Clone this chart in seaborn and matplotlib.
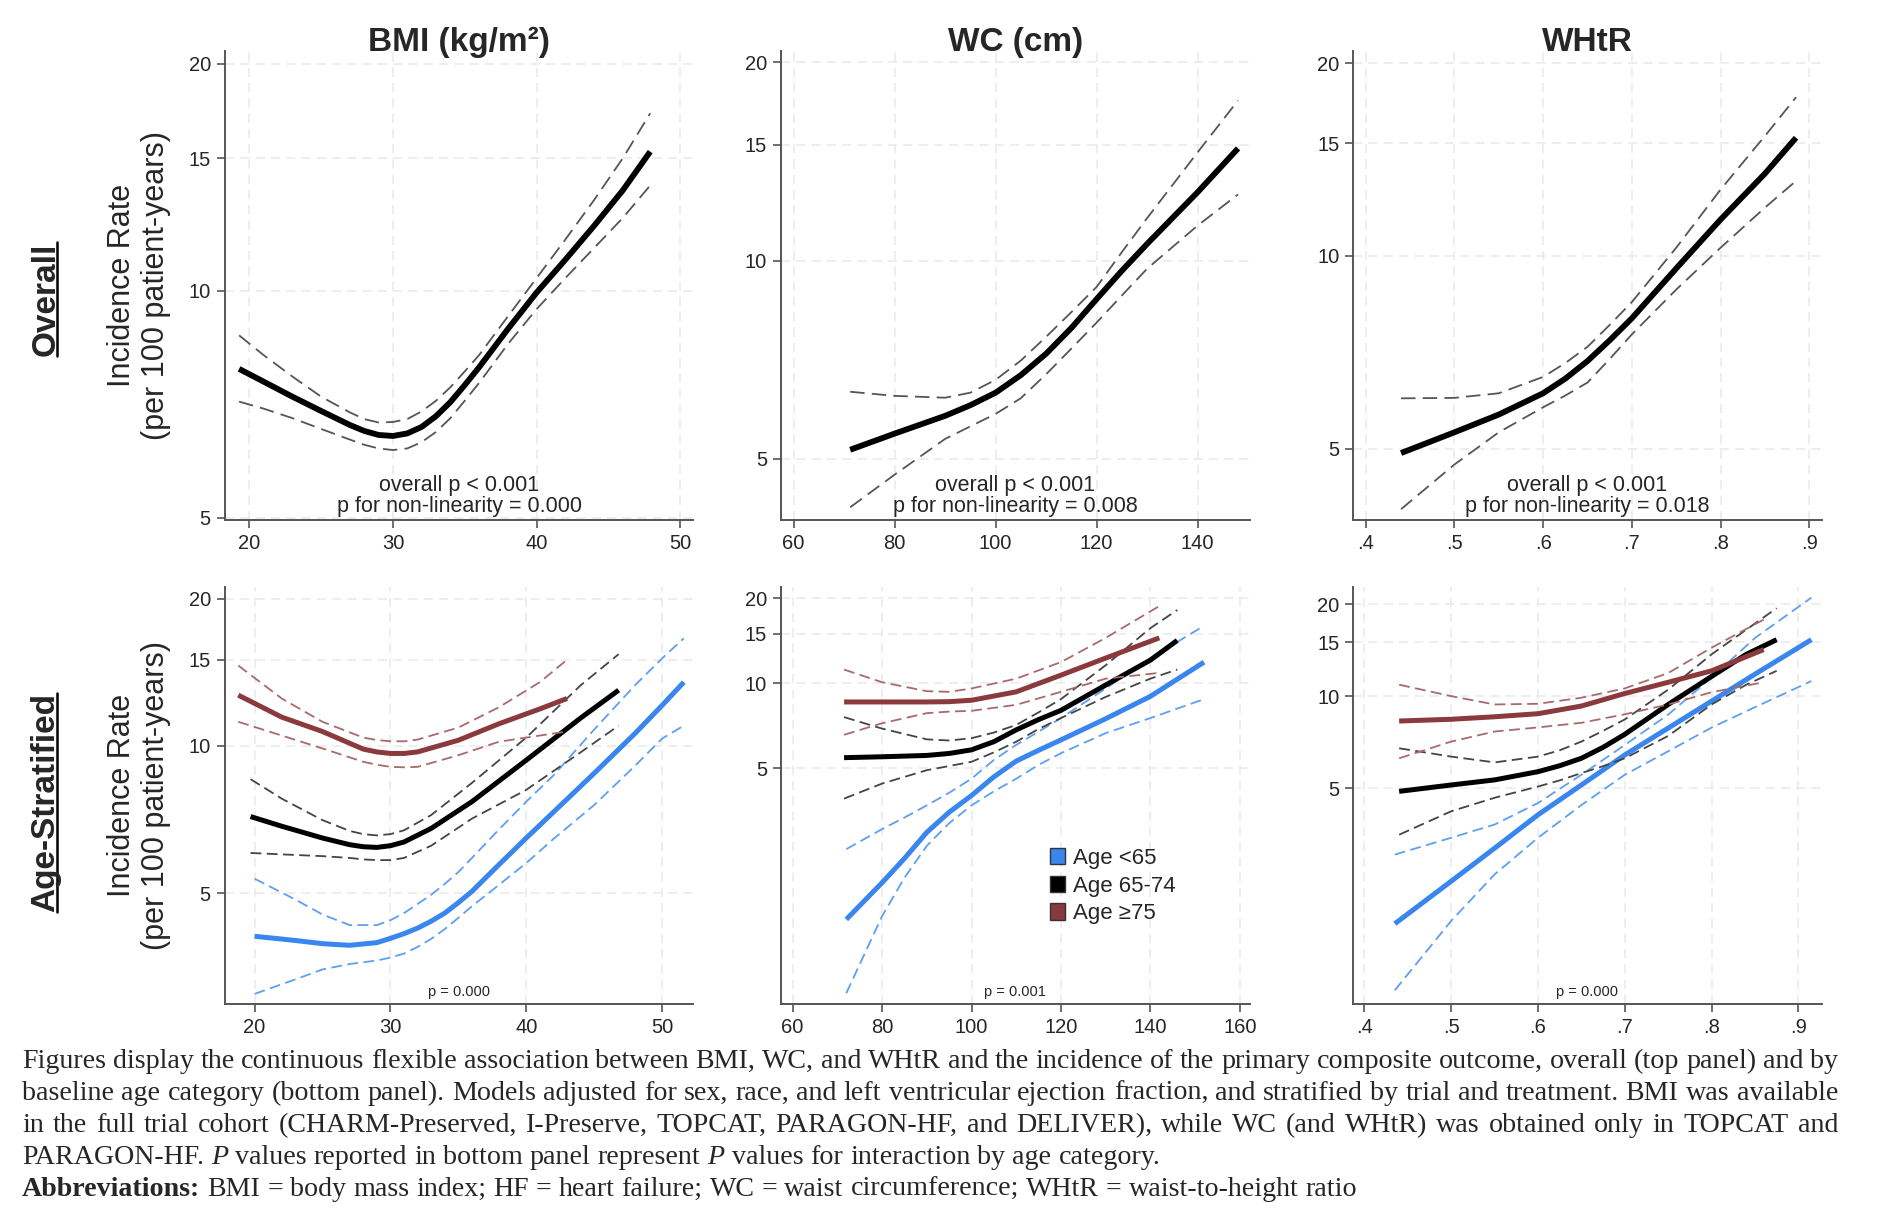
import numpy as np
import pandas as pd
import matplotlib
matplotlib.use("Agg")
import matplotlib.pyplot as plt
import seaborn as sns
from matplotlib.patches import Patch
from matplotlib.lines import Line2D
from matplotlib.ticker import FixedLocator, NullLocator

# ---------------- values ----------------
# top row: overall curves (estimate, lower CI, upper CI)
bmi_o_x = [19.3, 21, 23, 25, 27, 28, 29, 30, 31, 32, 33, 34, 35, 36, 38, 40, 42, 44, 46, 47.9]
bmi_o_est = [7.88, 7.58, 7.24, 6.93, 6.64, 6.52, 6.44, 6.42, 6.47, 6.6, 6.82, 7.12, 7.5, 7.92, 8.9, 9.95, 11.0, 12.2, 13.6, 15.3]
bmi_o_hi = [8.73, 8.22, 7.7, 7.24, 6.9, 6.76, 6.69, 6.7, 6.76, 6.92, 7.15, 7.45, 7.82, 8.22, 9.25, 10.4, 11.7, 13.2, 15.0, 17.2]
bmi_o_lo = [7.13, 6.98, 6.78, 6.56, 6.35, 6.25, 6.18, 6.15, 6.18, 6.3, 6.5, 6.78, 7.15, 7.55, 8.5, 9.46, 10.4, 11.4, 12.5, 13.8]

wc_o_x = [71.2, 80, 90, 95, 100, 105, 110, 115, 120, 125, 130, 140, 148]
wc_o_est = [5.16, 5.46, 5.81, 6.03, 6.3, 6.7, 7.22, 7.9, 8.74, 9.65, 10.6, 12.7, 14.8]
wc_o_hi = [6.32, 6.23, 6.19, 6.3, 6.59, 7.05, 7.66, 8.35, 9.12, 10.3, 11.6, 14.6, 17.5]
wc_o_lo = [4.22, 4.73, 5.36, 5.6, 5.85, 6.18, 6.72, 7.35, 8.05, 8.85, 9.72, 11.3, 12.6]

whtr_o_x = [0.44, 0.5, 0.55, 0.6, 0.625, 0.65, 0.675, 0.7, 0.75, 0.8, 0.85, 0.885]
whtr_o_est = [4.92, 5.30, 5.65, 6.1, 6.43, 6.85, 7.38, 7.99, 9.56, 11.4, 13.45, 15.3]
whtr_o_hi = [5.99, 6.0, 6.1, 6.47, 6.8, 7.21, 7.8, 8.47, 10.3, 12.7, 15.4, 17.7]
whtr_o_lo = [4.02, 4.72, 5.3, 5.8, 6.05, 6.34, 6.9, 7.54, 8.86, 10.3, 11.9, 13.1]

# bottom row: age-stratified curves (y = <65, m = 65-74, e = >=75)
bmi_y_x = [20, 23, 25, 27, 29, 30, 31, 32, 33, 34, 35, 36, 38, 40, 42, 45, 48, 50, 51.6]
bmi_y_est = [4.08, 4.0, 3.94, 3.91, 3.96, 4.04, 4.13, 4.24, 4.38, 4.55, 4.78, 5.04, 5.72, 6.48, 7.32, 8.79, 10.6, 12.1, 13.5]
bmi_y_hi = [5.35, 4.85, 4.52, 4.3, 4.3, 4.4, 4.55, 4.75, 4.96, 5.22, 5.52, 5.9, 6.75, 7.69, 8.7, 10.8, 13.3, 15.1, 16.6]
bmi_y_lo = [3.11, 3.33, 3.49, 3.58, 3.64, 3.69, 3.76, 3.88, 4.03, 4.22, 4.45, 4.7, 5.2, 5.76, 6.45, 7.57, 9.1, 10.35, 11.0]
bmi_m_x = [19.7, 22, 25, 27, 28, 29, 30, 31, 33, 36, 40, 44, 46.8]
bmi_m_est = [7.17, 6.85, 6.48, 6.28, 6.22, 6.2, 6.25, 6.36, 6.78, 7.69, 9.35, 11.4, 13.0]
bmi_m_hi = [8.55, 7.8, 7.05, 6.7, 6.6, 6.56, 6.6, 6.72, 7.22, 8.4, 10.4, 13.3, 15.4]
bmi_m_lo = [6.04, 6.0, 5.95, 5.9, 5.86, 5.84, 5.84, 5.9, 6.25, 7.1, 8.13, 9.7, 11.0]
bmi_e_x = [18.8, 22, 25, 28, 29, 30, 31, 32, 35, 38, 41, 43]
bmi_e_est = [12.7, 11.45, 10.7, 9.85, 9.72, 9.65, 9.65, 9.72, 10.27, 11.1, 11.9, 12.5]
bmi_e_hi = [14.6, 12.5, 11.2, 10.4, 10.28, 10.22, 10.22, 10.3, 10.9, 12.0, 13.5, 15.0]
bmi_e_lo = [11.2, 10.5, 9.88, 9.28, 9.15, 9.06, 9.04, 9.06, 9.57, 10.2, 10.5, 10.7]

wc_y_x = [72, 80, 85, 90, 95, 100, 105, 110, 115, 120, 130, 140, 152]
wc_y_est = [1.46, 1.97, 2.4, 2.97, 3.5, 4.01, 4.67, 5.31, 5.8, 6.31, 7.5, 9.0, 11.9]
wc_y_hi = [2.59, 3.05, 3.35, 3.70, 4.1, 4.6, 5.36, 6.06, 6.75, 7.54, 9.6, 12.3, 16.0]
wc_y_lo = [0.80, 1.50, 2.05, 2.66, 3.2, 3.7, 4.15, 4.6, 5.15, 5.66, 6.67, 7.54, 8.8]
wc_m_x = [71.5, 80, 90, 95, 100, 105, 110, 115, 120, 130, 140, 146]
wc_m_est = [5.46, 5.5, 5.56, 5.65, 5.82, 6.22, 6.85, 7.45, 8.03, 9.87, 12.1, 14.2]
wc_m_hi = [7.6, 6.92, 6.34, 6.28, 6.4, 6.7, 7.13, 7.9, 8.8, 11.6, 15.7, 18.2]
wc_m_lo = [3.91, 4.42, 4.93, 5.1, 5.28, 5.7, 6.22, 6.9, 7.54, 8.96, 10.4, 11.2]
wc_e_x = [71.5, 80, 90, 95, 100, 110, 120, 130, 142]
wc_e_est = [8.6, 8.6, 8.6, 8.62, 8.72, 9.34, 10.7, 12.3, 14.5]
wc_e_hi = [11.2, 10.1, 9.39, 9.34, 9.6, 10.4, 11.9, 14.5, 18.8]
wc_e_lo = [6.58, 7.23, 7.85, 7.95, 8.0, 8.4, 9.34, 10.4, 10.9]

whtr_y_x = [0.435, 0.5, 0.55, 0.6, 0.65, 0.7, 0.75, 0.8, 0.85, 0.915]
whtr_y_est = [1.80, 2.48, 3.18, 4.09, 5.12, 6.42, 7.86, 9.63, 11.8, 15.3]
whtr_y_hi = [3.03, 3.44, 3.80, 4.47, 5.53, 6.92, 8.7, 11.5, 15.5, 21.0]
whtr_y_lo = [1.09, 1.84, 2.61, 3.44, 4.4, 5.53, 6.6, 7.89, 9.2, 11.2]
whtr_m_x = [0.44, 0.5, 0.55, 0.6, 0.625, 0.65, 0.675, 0.7, 0.75, 0.8, 0.84, 0.875]
whtr_m_est = [4.88, 5.12, 5.32, 5.66, 5.92, 6.26, 6.8, 7.5, 9.39, 11.6, 13.7, 15.3]
whtr_m_hi = [6.75, 6.34, 6.07, 6.34, 6.65, 7.1, 7.7, 8.39, 10.5, 13.7, 16.5, 19.4]
whtr_m_lo = [3.52, 4.2, 4.65, 5.06, 5.3, 5.6, 5.9, 6.26, 7.41, 9.39, 10.9, 12.1]
whtr_e_x = [0.44, 0.5, 0.55, 0.6, 0.65, 0.7, 0.75, 0.8, 0.86]
whtr_e_est = [8.29, 8.4, 8.56, 8.76, 9.28, 10.2, 11.1, 12.1, 14.2]
whtr_e_hi = [10.9, 10.0, 9.39, 9.44, 9.88, 10.6, 11.9, 14.4, 17.8]
whtr_e_lo = [6.26, 7.1, 7.66, 7.9, 8.18, 8.72, 9.39, 10.3, 11.1]

titles = ["BMI (kg/m²)", "WC (cm)", "WHtR"]
age_labels = ["Age <65", "Age 65-74", "Age ≥75"]
top_notes = ["overall p < 0.001\np for non-linearity = 0.000",
             "overall p < 0.001\np for non-linearity = 0.008",
             "overall p < 0.001\np for non-linearity = 0.018"]
bottom_notes = ["p = 0.000", "p = 0.001", "p = 0.000"]
y_ticks = [5, 10, 15, 20]
x_ticks_top = [[20, 30, 40, 50], [60, 80, 100, 120, 140], [.4, .5, .6, .7, .8, .9]]
x_ticks_bot = [[20, 30, 40, 50], [60, 80, 100, 120, 140, 160], [.4, .5, .6, .7, .8, .9]]

caption = [
    "Figures display the continuous flexible association between BMI, WC, and WHtR and the incidence of the primary composite outcome, overall (top panel) and by",
    "baseline age category (bottom panel). Models adjusted for sex, race, and left ventricular ejection fraction, and stratified by trial and treatment. BMI was available",
    "in the full trial cohort (CHARM-Preserved, I-Preserve, TOPCAT, PARAGON-HF, and DELIVER), while WC (and WHtR) was obtained only in TOPCAT and",
    "PARAGON-HF. P values reported in bottom panel represent P values for interaction by age category.",
    "Abbreviations: BMI = body mass index; HF = heart failure; WC = waist circumference; WHtR = waist-to-height ratio",
]
caption_justify = [True, True, True, False, False]
italic_words = {"P"}
bold_words = {"Abbreviations:"}

# ---------------- styling ----------------
sns.set_theme(style="white")
plt.rcParams['font.family'] = ['Liberation Sans', 'DejaVu Sans']

BLUE = "#3a86ef"
BLACK = "#000000"
RED = "#8a3a3c"
CI = {BLUE: "#5d9ff2", BLACK: "#444444", RED: "#a86a6a"}

fig = plt.figure(figsize=(18.82, 12.16), dpi=100)

lefts = [0.1194, 0.415, 0.719]
width = 0.249
rows = [(0.572, 0.958 - 0.572), (0.174, 0.517 - 0.174)]
ylims_top = [(4.96, 20.8), (4.03, 20.8), (3.86, 20.9)]
ylims_bot = [(2.96, 21.1), (0.73, 21.9), (0.98, 22.7)]
xlims_top = [(18.3, 50.9), (57.5, 150.3), (0.386, 0.914)]
xlims_bot = [(17.8, 52.3), (57.4, 162.2), (0.387, 0.927)]


def curve(ax, x, est, lo, hi, color, lw_main=4.0, ci_color=None, dash=(6, 3)):
    ci_color = ci_color or CI[color]
    for band in (lo, hi):
        sns.lineplot(x=x, y=band, ax=ax, color=ci_color, linewidth=1.3,
                     linestyle=(0, dash))
    sns.lineplot(x=x, y=est, ax=ax, color=color, linewidth=lw_main,
                 solid_capstyle="butt", solid_joinstyle="round")


def style_axes(ax, xlim, ylim, xticks):
    ax.set_yscale("log")
    ax.set_xlim(*xlim)
    ax.set_ylim(*ylim)
    ax.yaxis.set_major_locator(FixedLocator(y_ticks))
    ax.yaxis.set_minor_locator(NullLocator())
    ax.set_yticklabels([str(t) for t in y_ticks])
    ax.set_xticks(xticks)
    if xticks[0] < 1:
        ax.set_xticklabels([("%.1f" % t).lstrip("0") for t in xticks])
    ax.grid(True, which="major", color="#e9e9e9", linestyle=(0, (6, 4)), linewidth=1.1)
    for s in ("top", "right"):
        ax.spines[s].set_visible(False)
    for s in ("left", "bottom"):
        ax.spines[s].set_color("#555555")
        ax.spines[s].set_linewidth(1.4)
    ax.tick_params(axis="both", which="major", direction="out", length=6, width=1.2,
                   color="#555555", labelsize=14.5, pad=4, bottom=True, left=True)
    ax.set_xlabel("")
    ax.set_ylabel("")


top_data = [
    (bmi_o_x, bmi_o_est, bmi_o_lo, bmi_o_hi),
    (wc_o_x, wc_o_est, wc_o_lo, wc_o_hi),
    (whtr_o_x, whtr_o_est, whtr_o_lo, whtr_o_hi),
]
bot_data = [
    [(bmi_y_x, bmi_y_est, bmi_y_lo, bmi_y_hi), (bmi_m_x, bmi_m_est, bmi_m_lo, bmi_m_hi),
     (bmi_e_x, bmi_e_est, bmi_e_lo, bmi_e_hi)],
    [(wc_y_x, wc_y_est, wc_y_lo, wc_y_hi), (wc_m_x, wc_m_est, wc_m_lo, wc_m_hi),
     (wc_e_x, wc_e_est, wc_e_lo, wc_e_hi)],
    [(whtr_y_x, whtr_y_est, whtr_y_lo, whtr_y_hi), (whtr_m_x, whtr_m_est, whtr_m_lo, whtr_m_hi),
     (whtr_e_x, whtr_e_est, whtr_e_lo, whtr_e_hi)],
]

top_axes, bot_axes = [], []
for i in range(3):
    ax = fig.add_axes([lefts[i], rows[0][0], width, rows[0][1]])
    x, est, lo, hi = top_data[i]
    curve(ax, x, est, lo, hi, BLACK, lw_main=4.2, ci_color="#555555", dash=(8, 4))
    style_axes(ax, xlims_top[i], ylims_top[i], x_ticks_top[i])
    ax.set_title(titles[i], fontsize=24, fontweight="bold", pad=0)
    ax.text(0.5, 0.008, top_notes[i], transform=ax.transAxes, ha="center", va="bottom",
            fontsize=15.5, linespacing=0.95)
    top_axes.append(ax)

    ax = fig.add_axes([lefts[i], rows[1][0], width, rows[1][1]])
    for (x, est, lo, hi), col in zip(bot_data[i], [BLUE, BLACK, RED]):
        curve(ax, x, est, lo, hi, col, lw_main=3.6)
    style_axes(ax, xlims_bot[i], ylims_bot[i], x_ticks_bot[i])
    ax.text(0.5, 0.029, bottom_notes[i], transform=ax.transAxes, ha="center", va="center",
            fontsize=10.5)
    bot_axes.append(ax)

# legend in the bottom WC panel
handles = [Patch(facecolor=c, edgecolor="#333333", linewidth=1.0) for c in [BLUE, BLACK, RED]]
bot_axes[1].legend(handles, age_labels, loc="lower left", bbox_to_anchor=(0.574, 0.192),
                   frameon=False, handlelength=0.68, handleheight=0.75, handletextpad=0.35,
                   labelspacing=0.3, borderaxespad=0, borderpad=0, fontsize=16)

# y labels and row headers
for ax in (top_axes[0], bot_axes[0]):
    ax.set_ylabel("Incidence Rate\n(per 100 patient-years)", fontsize=22, labelpad=13,
                  linespacing=1.15)

row_heads = []
for label, yy in (("Overall", 0.754), ("Age-Stratified", 0.34)):
    t = fig.text(0.0243, yy, label, rotation=90, ha="center", va="center",
                 fontsize=24, fontweight="bold")
    row_heads.append(t)

fig.canvas.draw()
renderer = fig.canvas.get_renderer()
W = fig.bbox.width

# underline the row headers (baseline is on the right of the rotated text)
for t in row_heads:
    bb = t.get_window_extent(renderer)
    xline = (bb.x1 - 4) / W
    y0 = bb.y0 / fig.bbox.height
    y1 = bb.y1 / fig.bbox.height
    fig.add_artist(Line2D([xline, xline], [y0, y1], transform=fig.transFigure,
                          color="black", linewidth=1.8))

# caption, word by word so that the first lines are justified
CAP_SIZE = 20.2
cap_x0, cap_x1 = 22, 1838
cap_base = [0.1215, 0.0952, 0.069, 0.0425, 0.0165]
space_px = 0.25 * CAP_SIZE * 100 / 72
for line, yy, just in zip(caption, cap_base, caption_justify):
    arts = []
    for w in line.split(" "):
        kw = dict(family="Liberation Serif", fontsize=CAP_SIZE, va="baseline", ha="left")
        if w in bold_words:
            kw["fontweight"] = "bold"
        if w in italic_words:
            kw["fontstyle"] = "italic"
        arts.append(fig.text(0, yy, w, **kw))
    widths = [a.get_window_extent(renderer).width for a in arts]
    gap = (cap_x1 - cap_x0 - sum(widths)) / (len(arts) - 1) if just else space_px
    xpos = cap_x0
    for a, w in zip(arts, widths):
        a.set_x(xpos / W)
        xpos += w + gap

fig.savefig("out.png", dpi=100, facecolor="white")
